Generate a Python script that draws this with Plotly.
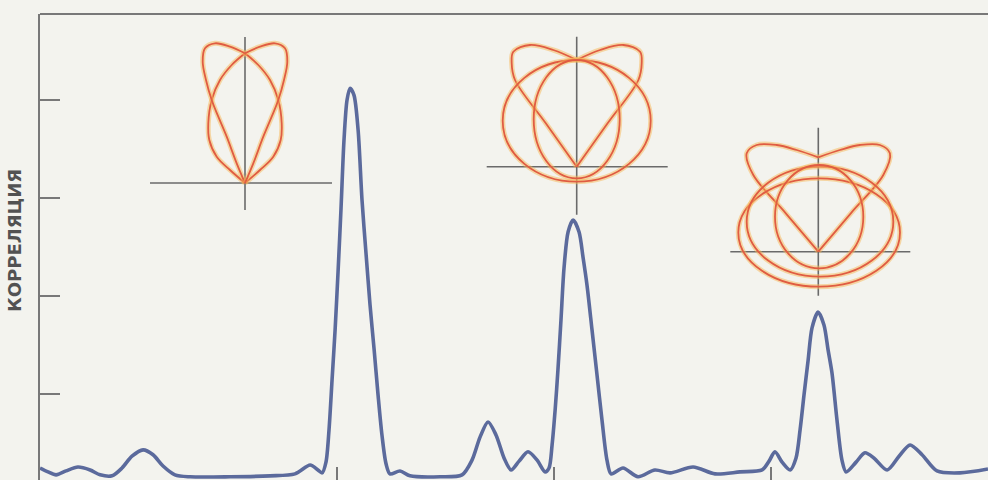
import plotly.graph_objects as go

# ---- correlation curve (lag in period units, normalised correlation) ----
lag = [-0.369, -0.332, -0.295, -0.249, -0.194, -0.138, -0.092, -0.037, 0.009, 0.055,
       0.106, 0.152, 0.198, 0.253, 0.323, 0.507, 0.691, 0.806, 0.876, 0.912,
       0.931, 0.949, 0.963, 0.977, 0.991, 1.005, 1.018, 1.032, 1.046, 1.060,
       1.078, 1.097, 1.115, 1.134, 1.152, 1.171, 1.189, 1.207, 1.226, 1.244,
       1.290, 1.336, 1.475, 1.576, 1.622, 1.659, 1.696, 1.733, 1.770, 1.802,
       1.839, 1.880, 1.922, 1.959, 1.977, 1.991, 2.005, 2.018, 2.032, 2.046,
       2.065, 2.088, 2.115, 2.134, 2.152, 2.175, 2.198, 2.221, 2.244, 2.263,
       2.318, 2.387, 2.465, 2.535, 2.641, 2.742, 2.857, 2.959, 2.991, 3.018,
       3.051, 3.088, 3.115, 3.134, 3.152, 3.171, 3.189, 3.217, 3.244, 3.263,
       3.281, 3.304, 3.327, 3.346, 3.392, 3.433, 3.475, 3.535, 3.590, 3.641,
       3.696, 3.765, 3.871, 4.000]
correlation = [0.049, 0.041, 0.035, 0.043, 0.051, 0.045, 0.035, 0.033, 0.049, 0.073,
               0.086, 0.076, 0.053, 0.035, 0.031, 0.031, 0.033, 0.037, 0.055, 0.045,
               0.039, 0.061, 0.127, 0.229, 0.331, 0.453, 0.576, 0.718, 0.800, 0.824,
               0.810, 0.739, 0.596, 0.484, 0.382, 0.290, 0.198, 0.116, 0.057, 0.037,
               0.043, 0.033, 0.031, 0.035, 0.065, 0.112, 0.143, 0.116, 0.069, 0.045,
               0.063, 0.082, 0.065, 0.041, 0.049, 0.096, 0.167, 0.249, 0.351, 0.457,
               0.531, 0.555, 0.531, 0.478, 0.422, 0.331, 0.239, 0.147, 0.065, 0.037,
               0.049, 0.031, 0.045, 0.039, 0.051, 0.037, 0.041, 0.045, 0.063, 0.082,
               0.061, 0.045, 0.069, 0.127, 0.198, 0.269, 0.335, 0.367, 0.341, 0.290,
               0.243, 0.147, 0.065, 0.041, 0.061, 0.080, 0.069, 0.045, 0.073, 0.096,
               0.076, 0.043, 0.039, 0.047]

y_ticks = [0.2, 0.4, 0.6, 0.8]
x_ticks = [1, 2, 3]
y_title = "КОРРЕЛЯЦИЯ"

# ---- Lissajous-type figures (left halves, mirrored; local units) ----
fig1_strands = [
    [(0, 0), (-15, 13), (-28.3, 26.3), (-35.7, 43), (-36.7, 59.7), (-33.3, 83),
     (-25, 103), (-13.3, 118), (0, 129.7)],
    [(0, 0), (-8.3, 19.7), (-18.3, 46.3), (-26.7, 66.3), (-33.3, 83), (-39, 103),
     (-42.3, 121.3), (-40, 134.7), (-30, 139.7), (-15, 136.3), (0, 129.7)],
]
fig1_ovals = []

fig2_strands = [
    [(0, 0), (-30.9, 43.4), (-61.7, 86.7), (-65, 103.4), (-63.4, 115), (-46.7, 121.7),
     (-23.4, 116.7), (0, 106.7)],
]
fig2_ovals = [(-74, 74, -15, 106.7), (-43, 43, -11.6, 106.7)]

fig3_strands = [
    [(0, 0), (-32.5, 38.4), (-65, 76.7), (-71.6, 98.4), (-61.6, 106.7), (-41.6, 106.7),
     (-21.6, 101.7), (0, 94.4)],
]
fig3_ovals = [(-80, 81.7, -35, 73.4), (-71.6, 75, -25, 85), (-43.3, 45, -16.6, 86.7)]

# crosshair extents: (x_left, x_right, y_bottom, y_top)
cross1 = (-95, 87, -27, 146)
cross2 = (-90, 91, -48, 130)
cross3 = (-88, 92, -44, 124)

W, H = 988, 480
ML, MR, MT, MB = 40, 0, 14, 0
PW, PH = W - ML - MR, H - MT - MB

BG = "#f3f3ee"
AXIS = "#787878"
BLUE = "#5b6a9c"
CORE = "#e05c42"
GLOW = "rgba(247,184,86,0.5)"

fig = go.Figure()

fig.add_trace(go.Scatter(
    x=lag, y=correlation, mode="lines",
    line=dict(color=BLUE, width=3.6, shape="spline", smoothing=0.8),
    hoverinfo="skip", showlegend=False))

# inset placement: pixel centre of each crosshair
insets = [
    (245.0, 183.0, fig1_strands, fig1_ovals, cross1),
    (576.7, 166.7, fig2_strands, fig2_ovals, cross2),
    (818.3, 251.7, fig3_strands, fig3_ovals, cross3),
]
XR, YR = (-100, 100), (-60, 150)

layout_axes = {}
shapes = []
for i, (ox, oy, strands, ovals, cross) in enumerate(insets, start=2):
    xa, ya = f"x{i}", f"y{i}"
    dx0 = (ox + XR[0] - ML) / PW
    dx1 = (ox + XR[1] - ML) / PW
    dy0 = (H - MB - (oy - YR[0])) / PH
    dy1 = (H - MB - (oy - YR[1])) / PH
    layout_axes[f"xaxis{i}"] = dict(domain=[dx0, dx1], range=list(XR), visible=False,
                                    anchor=ya, fixedrange=True)
    layout_axes[f"yaxis{i}"] = dict(domain=[dy0, dy1], range=list(YR), visible=False,
                                    anchor=xa, fixedrange=True)

    # crosshair
    xl, xr, yb, yt = cross
    for px, py in (([xl, xr], [0, 0]), ([0, 0], [yb, yt])):
        fig.add_trace(go.Scatter(x=px, y=py, mode="lines", xaxis=xa, yaxis=ya,
                                 line=dict(color="#6a6a6a", width=1.6),
                                 hoverinfo="skip", showlegend=False))

    # ovals
    for (x0, x1, y0, y1) in ovals:
        for col, wd in ((GLOW, 5.0), (CORE, 1.8)):
            shapes.append(dict(type="circle", xref=xa, yref=ya, x0=x0, x1=x1, y0=y0, y1=y1,
                               line=dict(color=col, width=wd), layer="above"))

    # strands, mirrored about the vertical axis
    for s in strands:
        xs = [p[0] for p in s]
        ys = [p[1] for p in s]
        for sx in (xs, [-v for v in xs]):
            for col, wd in ((GLOW, 5.0), (CORE, 1.8)):
                fig.add_trace(go.Scatter(x=sx, y=ys, mode="lines", xaxis=xa, yaxis=ya,
                                         line=dict(color=col, width=wd, shape="spline",
                                                   smoothing=1.0),
                                         hoverinfo="skip", showlegend=False))

# top frame line
shapes.append(dict(type="line", xref="paper", yref="paper", x0=0, x1=1, y0=1, y1=1,
                   line=dict(color=AXIS, width=2)))

fig.update_layout(
    width=W, height=H, autosize=False,
    margin=dict(l=ML, r=MR, t=MT, b=MB, pad=0),
    paper_bgcolor=BG, plot_bgcolor="rgba(0,0,0,0)",
    xaxis=dict(range=[-0.369, 4.0], showline=False, showgrid=False, zeroline=False,
               ticks="inside", ticklen=13, tickwidth=1.5, tickcolor=AXIS,
               tickvals=x_ticks, showticklabels=False, fixedrange=True),
    yaxis=dict(range=[0.0245, 0.9755], showline=True, linecolor=AXIS, linewidth=2,
               showgrid=False, zeroline=False, ticks="inside", ticklen=20,
               tickwidth=1.5, tickcolor=AXIS, tickvals=y_ticks, showticklabels=False,
               fixedrange=True),
    shapes=shapes,
    annotations=[dict(text="<b>" + y_title + "</b>", xref="paper", yref="paper",
                      x=(15 - ML) / PW, y=(H - 241) / PH, showarrow=False,
                      textangle=-90, xanchor="center", yanchor="middle",
                      font=dict(family="DejaVu Sans", size=18, color="#525252"))],
    **layout_axes,
)

fig.write_html("out.html")
